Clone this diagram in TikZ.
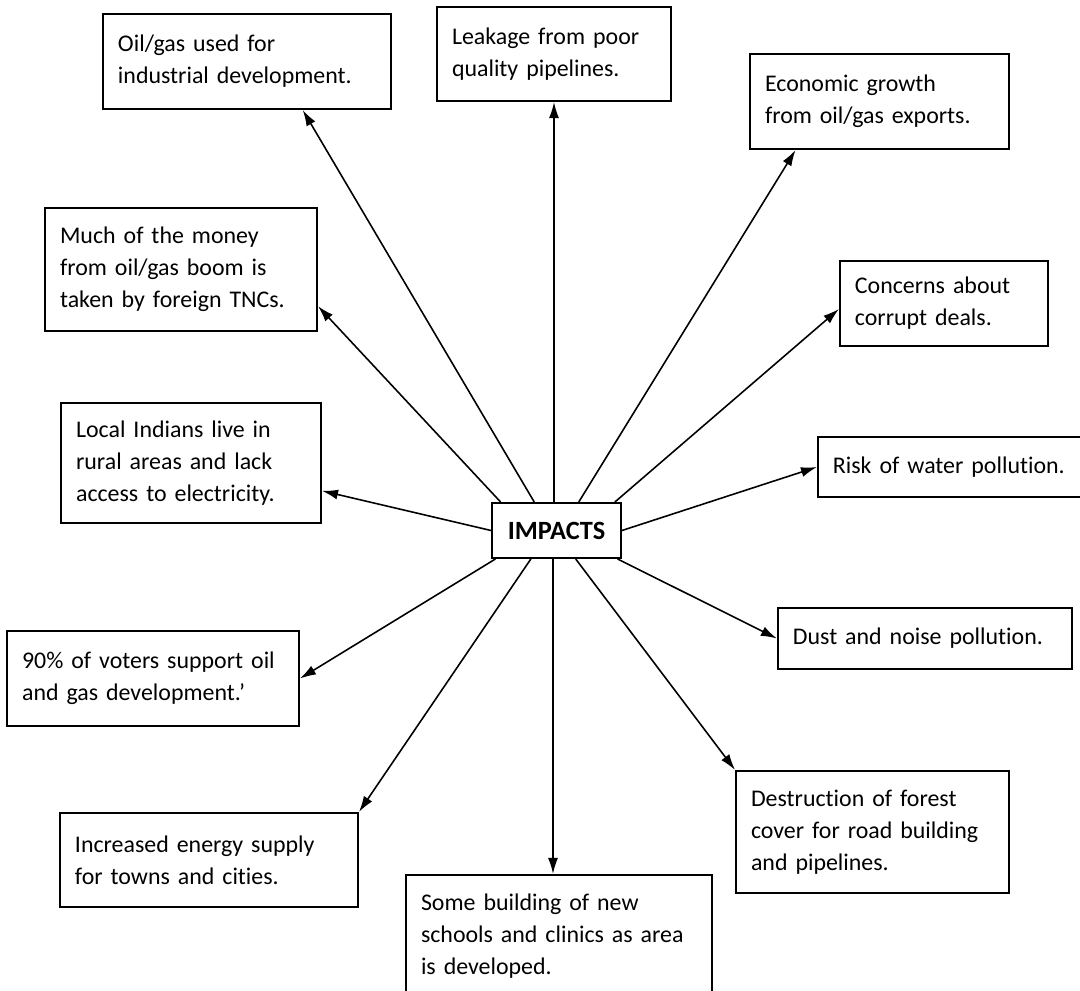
\documentclass[tikz,border=0pt]{standalone}
\usepackage{fontspec}
\setmainfont{Carlito}[Ligatures={TeX,NoCommon}]
\usepackage{tikz}
\usetikzlibrary{positioning,arrows.meta}
\tikzset{
    impbox/.style 2 args={ % #1 = text width, #2 = height
        draw, line width=1.1pt, align=left, text=black,
        inner xsep=0.3cm, inner ysep=0pt,
        text width=#1, minimum height=#2
    },
    hub/.style={
        draw, line width=1.1pt, align=center,
        minimum width=2.58cm, minimum height=1.1cm,
        font=\fontsize{15}{18}\selectfont\bfseries
    }
}

\begin{document}
\begin{tikzpicture}[
    font=\fontsize{13.6}{18.2}\selectfont,
    arrow/.style={-{Latex[length=3.2mm, width=2mm]}, line width=0.9pt},
]

\useasboundingbox (-11.13,-9.19) rectangle (10.47,10.61);

% ===============================
%         centre
% ===============================

\node[hub] (impacts) {IMPACTS};

% ===============================
%         top boxes
% ===============================

\node[impbox={5.16cm}{1.9cm}, above=7.84cm of impacts, xshift=-6.19cm] (oil)
    {Oil/gas used for\\industrial development.};

\node[impbox={4.08cm}{1.88cm}, above=8cm of impacts, xshift=-0.05cm] (leak)
    {Leakage from poor\\quality pipelines.};

\node[impbox={4.58cm}{1.9cm}, above=7.04cm of impacts, xshift=6.46cm] (econ)
    {Economic growth\\from oil/gas exports.};

% ===============================
%         left boxes
% ===============================

\node[impbox={4.84cm}{2.46cm}, left=3.46cm of impacts, yshift=5.22cm] (much)
    {Much of the money\\from oil/gas boom is\\taken by foreign TNCs.};

\node[impbox={4.6cm}{2.4cm}, left=3.38cm of impacts, yshift=1.35cm] (local)
    {Local Indians live in\\rural areas and lack\\access to electricity.};

\node[impbox={5.24cm}{1.9cm}, left=3.82cm of impacts, yshift=-2.96cm] (voters)
    {90\% of voters support oil\\and gas development.’};

% ===============================
%         right boxes
% ===============================

\node[impbox={3.56cm}{1.7cm}, right=4.34cm of impacts, yshift=4.54cm] (conc)
    {Concerns about\\corrupt deals.};

\node[impbox={5.2cm}{1.2cm}, right=3.9cm of impacts, yshift=1.27cm] (risk)
    {Risk of water pollution.};

\node[impbox={5.28cm}{1.22cm}, right=3.1cm of impacts, yshift=-2.16cm] (dust)
    {Dust and noise pollution.};

% ===============================
%         bottom boxes
% ===============================

\node[impbox={4.86cm}{2.44cm}, below=4.22cm of impacts, xshift=6.32cm] (destr)
    {Destruction of forest\\cover for road building\\and pipelines.};

\node[impbox={5.36cm}{1.88cm}, below=5.06cm of impacts, xshift=-6.95cm] (incr)
    {Increased energy supply\\for towns and cities.};

\node[impbox={5.52cm}{2.44cm}, below=6.3cm of impacts, xshift=0.05cm] (some)
    {Some building of new\\schools and clinics as area\\is developed.};

% ===============================
%              arrows
% ===============================

\draw[arrow] (impacts.128) -- (oil.-41);
\draw[arrow] (impacts.north -| leak.south) -- (leak.south);
\draw[arrow] (impacts.52) -- (econ.210);
\draw[arrow] (impacts.153) -- (much.-15);
\draw[arrow] (impacts.26) -- (conc.183);
\draw[arrow] (impacts.west) -- (local.-12);
\draw[arrow] (impacts.east) -- (risk.west);
\draw[arrow] (impacts.205) -- (voters.east);
\draw[arrow] (impacts.-25) -- (dust.west);
\draw[arrow] (impacts.-56) -- (destr.north west);
\draw[arrow] (impacts.228) -- (incr.north east);
\draw[arrow] (impacts.-97) -- (impacts.-97 |- some.north);

\end{tikzpicture}
\end{document}
